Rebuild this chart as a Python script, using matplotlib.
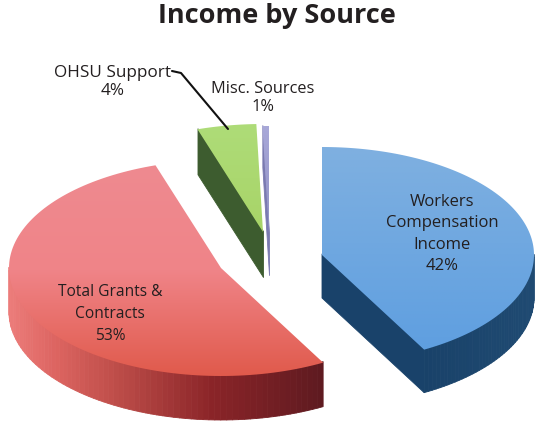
import numpy as np
import matplotlib
matplotlib.use("Agg")
import matplotlib.pyplot as plt
from matplotlib.collections import PolyCollection
from matplotlib.colors import LinearSegmentedColormap
from matplotlib.patches import Polygon

categories = ["Workers Compensation Income", "Total Grants & Contracts", "OHSU Support", "Misc. Sources"]
# slice sizes as drawn in the picture (the printed labels are rounded)
drawn_shares = [42.0, 53.0, 4.5, 0.5]
printed_labels = ["Workers\nCompensation\nIncome\n42%", "Total Grants &\nContracts\n53%", "OHSU Support\n4%", "Misc. Sources\n1%"]

RX, RY = 212, 108
centres = [(322, 255), (221, 268), (263, 232), (269, 234)]
depths = [43, 44, 45, 41]
top_cols = [["#7fb0e0", "#5f9fe0"], ["#ee8a90", "#f08488", "#e05a4c"], ["#aedc78", "#a8d468"], ["#a8a8d8", "#8f90c4"]]
side_cols = [
    [(0, "#234f7a"), (0.3, "#173f66"), (1, "#1f4a72")],
    [(0, "#ec7c7a"), (0.15, "#dc6460"), (0.35, "#bc4c48"), (0.65, "#8a2428"), (1, "#5e1a20")],
    [(0, "#3f5f33"), (1, "#3c5a2c")],
    [(0, "#6a6aa0"), (1, "#8a8ac0")],
]

fig = plt.figure(figsize=(5.36, 4.23), dpi=100, facecolor="white")
ax = fig.add_axes([0, 0, 1, 1])
ax.set_xlim(0, 536)
ax.set_ylim(423, 0)
ax.axis("off")

edges = np.cumsum([0] + drawn_shares) / sum(drawn_shares) * 2 * np.pi
for i in range(len(drawn_shares)):
    cx, cy = centres[i]
    d = depths[i]
    t = np.linspace(edges[i], edges[i + 1], 120)
    x = np.r_[cx, cx + RX * np.sin(t), cx]
    y = np.r_[cy, cy - RY * np.cos(t), cy]

    # sweep only the downward-facing outline segments to form the visible wall
    keep = [k for k in range(len(x) - 1) if x[k + 1] < x[k]]
    quads = [[(x[k], y[k] - 1), (x[k + 1], y[k + 1] - 1), (x[k + 1], y[k + 1] + d), (x[k], y[k] + d)]
             for k in keep]
    cmap_side = LinearSegmentedColormap.from_list("s", side_cols[i])
    span = max(x.max() - x.min(), 1)
    cols = cmap_side([((x[k] + x[k + 1]) / 2 - x.min()) / span for k in keep])
    ax.add_collection(PolyCollection(quads, facecolors=cols, edgecolors=cols, linewidths=0.6, zorder=2 + i * 0.1))

    # top face with a vertical gradient
    patch = Polygon(np.c_[x, y], closed=True, facecolor="none", edgecolor="none", zorder=3 + i * 0.1)
    ax.add_patch(patch)
    cmap_top = LinearSegmentedColormap.from_list("t", top_cols[i])
    grad = np.linspace(0, 1, 128)[:, None]
    im = ax.imshow(grad, cmap=cmap_top, extent=[x.min(), x.max(), y.max(), y.min()],
                   aspect="auto", zorder=3 + i * 0.1, interpolation="bilinear")
    im.set_clip_path(patch)

ax.set_xlim(0, 536)
ax.set_ylim(423, 0)

font = ["Open Sans", "DejaVu Sans"]
txt = "#231f20"
ax.text(277, 16, "Income by Source", ha="center", va="center", fontsize=19.5, fontweight="bold", family=font, color=txt, zorder=10)

label_pos = [(442, 234), (110, 314), (113, 82), (263, 98)]
label_sizes = [12, 11.2, 12.3, 11.8]
label_spacing = [1.42, 1.53, 1.1, 1.22]
for s, (lx, ly), fs, ls in zip(printed_labels, label_pos, label_sizes, label_spacing):
    ax.text(lx, ly, s, ha="center", va="center", fontsize=fs, family=font, color=txt, linespacing=ls, zorder=10)

ax.plot([172, 181, 228], [71, 73, 129], color="#111111", lw=1.5, zorder=9, solid_capstyle="round")

fig.savefig("out.png", dpi=100, facecolor="white")
